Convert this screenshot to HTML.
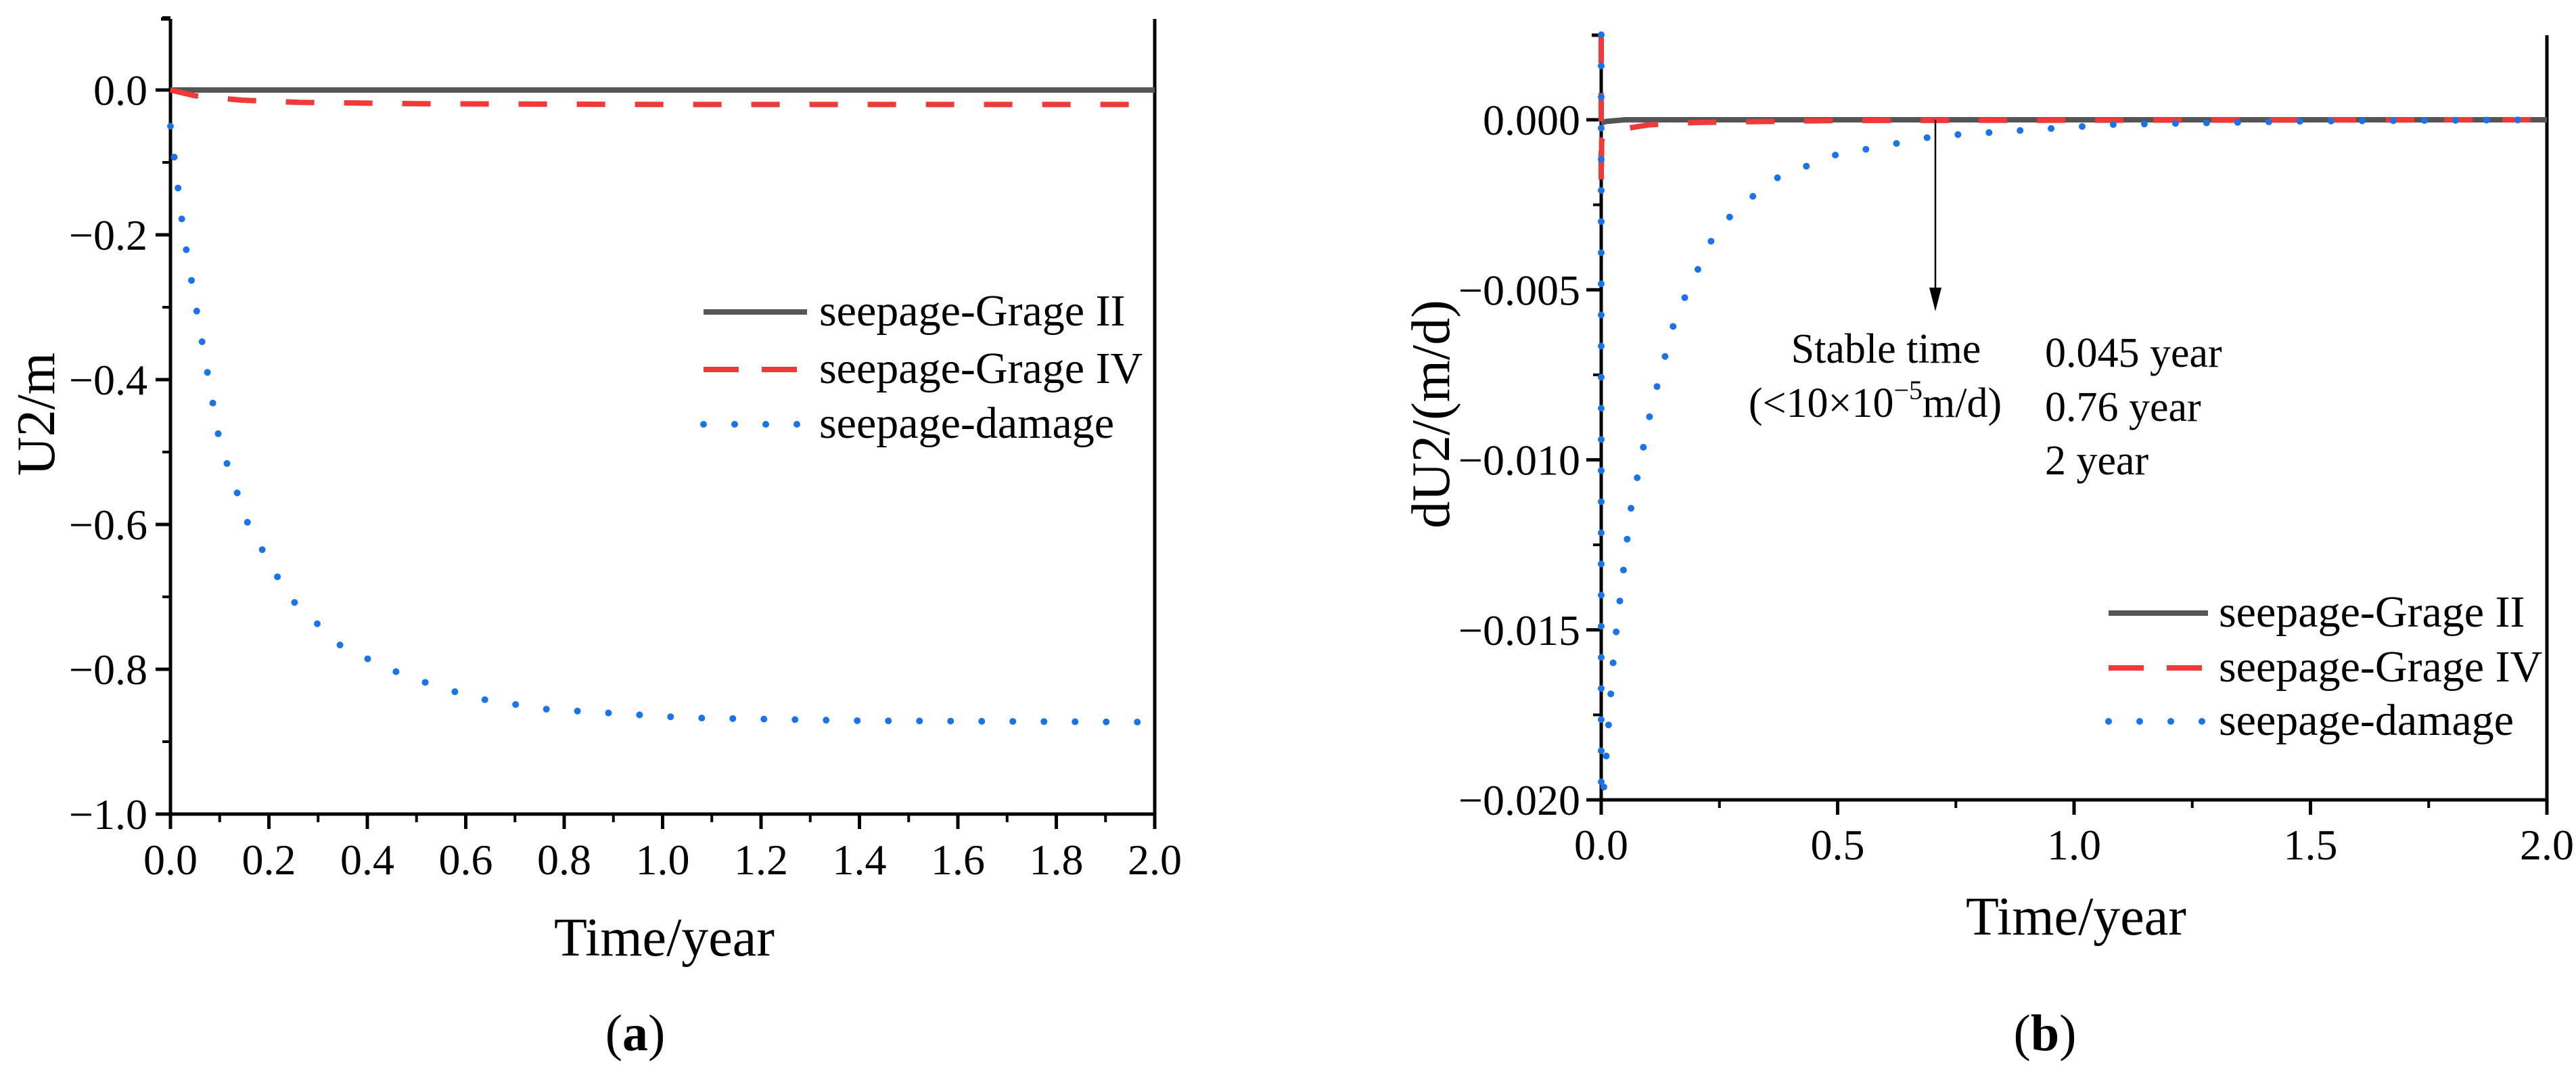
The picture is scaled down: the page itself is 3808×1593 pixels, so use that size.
<!DOCTYPE html>
<html><head><meta charset="utf-8"><style>
html,body{margin:0;padding:0;background:#fff;}
svg{display:block;font-family:"Liberation Serif",serif;}
svg text{font-family:"Liberation Serif",serif;}
</style></head><body>
<svg id="fig" width="3808" height="1593" viewBox="0 0 3808 1593" xmlns="http://www.w3.org/2000/svg">
<g id="pa"></g>
<g id="pb"></g>
</svg>
<script>
// Panel (a) data
const aGrayT=[0,2.0];
const aGrayV=[0,0];
const aRedT=[0,0.05,0.145,0.26,0.5,1.0,2.0];
const aRedV=[0,-0.008,-0.014,-0.017,-0.019,-0.02,-0.02];
const aBlueT=[0,0.027,0.052,0.1,0.158,0.24,0.35,0.48,0.62,0.76,1.05,1.4,2.0];
const aBlueV=[-0.05,-0.2,-0.3,-0.487,-0.6,-0.7,-0.77,-0.81,-0.84,-0.855,-0.867,-0.871,-0.873];
const aXTicks=["0.0","0.2","0.4","0.6","0.8","1.0","1.2","1.4","1.6","1.8","2.0"];
const aYTicks=["0.0","\u22120.2","\u22120.4","\u22120.6","\u22120.8","\u22121.0"];
const aYTickVals=[0,-0.2,-0.4,-0.6,-0.8,-1.0];
// Panel (b) data
const bGrayT=[0,0.01,0.05,2.0];
const bGrayV=[-0.0001,-0.00005,0,0];
const bRedT=[0,0,0.001,0.01,0.03,0.055,0.1,0.2,0.5,2.0];
const bRedV=[0.0025,-0.002,-0.0006,-0.00045,-0.0003,-0.00025,-0.00015,-0.00008,-0.00002,0];
const bBlueT=[0,0,0.006,0.027,0.062,0.106,0.157,0.245,0.358,0.49,0.707,1.08,1.5,2.0];
const bBlueV=[0.0025,-0.02,-0.0196,-0.0156,-0.0115,-0.00847,-0.00582,-0.00319,-0.00179,-0.00105,-0.00048,-0.00014,-0.00004,0];
const bXTicks=["0.0","0.5","1.0","1.5","2.0"];
const bYTicks=["0.000","\u22120.005","\u22120.010","\u22120.015","\u22120.020"];
const bYTickVals=[0,-0.005,-0.01,-0.015,-0.02];
const legendNames=["seepage-Grage II","seepage-Grage IV","seepage-damage"];

const NS="http://www.w3.org/2000/svg";
function mk(parent,tag,attrs,text){
  const e=document.createElementNS(NS,tag);
  for(const k in attrs) e.setAttribute(k,attrs[k]);
  if(tag==="text") e.setAttribute("font-family","Liberation Serif, serif");
  if(text!==undefined) e.textContent=text;
  parent.appendChild(e);return e;
}
const styles=[
  {stroke:"#555555","stroke-width":8,fill:"none"},
  {stroke:"#f03a3a","stroke-width":8,fill:"none","stroke-dasharray":"42 44"},
  {stroke:"#1a73e8","stroke-width":10,fill:"none","stroke-dasharray":"0 46","stroke-linecap":"round"}
];
function panel(g,o){
  const sx=t=>o.x0+(t-o.tmin)/(o.tmax-o.tmin)*(o.x1-o.x0);
  const sy=v=>o.y0+(o.v0-v)/(o.v0-o.v1)*(o.y1-o.y0);
  let e=mk(g,"line",{x1:o.x0,y1:o.ytop,x2:o.x0,y2:o.y1,stroke:"#000","stroke-width":5});
  
  e=mk(g,"line",{x1:o.x0-2,y1:o.y1,x2:o.x1+2,y2:o.y1,stroke:"#000","stroke-width":5});
  
  e=mk(g,"line",{x1:o.x1,y1:o.ytop,x2:o.x1,y2:o.y1,stroke:"#000","stroke-width":5});
  
  e=mk(g,"line",{x1:o.x0-14,y1:o.ytop,x2:o.x0,y2:o.ytop,stroke:"#000","stroke-width":5});
  
  o.xt.forEach((lab,i)=>{
    const t=o.tmin+i*o.xstep;const x=sx(t);
    let l=mk(g,"line",{x1:x,y1:o.y1,x2:x,y2:o.y1+22,stroke:"#000","stroke-width":5});
    
    let tx=mk(g,"text",{x:x,y:o.xly,"font-size":64,"text-anchor":"middle"},lab);
    
    if(i<o.xt.length-1){const xm=sx(t+o.xstep/2);
      let m=mk(g,"line",{x1:xm,y1:o.y1,x2:xm,y2:o.y1+12,stroke:"#000","stroke-width":4});
      }
  });
  o.yt.forEach((lab,i)=>{
    const v=o.ytv[i];const y=sy(v);
    let l=mk(g,"line",{x1:o.x0-22,y1:y,x2:o.x0,y2:y,stroke:"#000","stroke-width":5});
    
    let tx=mk(g,"text",{x:o.ylx,y:y+22,"font-size":64,"text-anchor":"end"},lab);
    
  });
  o.ymin.forEach(v=>{const y=sy(v);
    let m=mk(g,"line",{x1:o.x0-12,y1:y,x2:o.x0,y2:y,stroke:"#000","stroke-width":4});
    });
  o.series.forEach((s,k)=>{
    const d=s.t.map((t,i)=>(i?"L":"M")+sx(t).toFixed(1)+","+sy(s.v[i]).toFixed(1)).join(" ");
    const p=mk(g,"path",Object.assign({d:d},styles[k]));
    
    
  });
  let t=mk(g,"text",{x:o.xtx,y:o.xty,"font-size":80,"text-anchor":"middle"},"Time/year");
  
  t=mk(g,"text",{x:0,y:0,"font-size":80,"text-anchor":"middle",transform:`translate(${o.ytx},${o.yty}) rotate(-90)`},o.ytitle);
  
  legendNames.forEach((n,k)=>{
    const y=o.legY[k];
    const st=Object.assign({},styles[k]);
    if(k==1) st["stroke-dasharray"]="52 34";
    if(k==2) st["stroke-dasharray"]="0 46";
    const l=mk(g,"line",Object.assign({x1:o.legX0,y1:y,x2:o.legX1,y2:y},st));
    
    const tx=mk(g,"text",{x:o.legTx,y:y+20,"font-size":66},n);
    
  });
  t=mk(g,"text",{x:o.capx,y:o.capy,"font-size":76,"text-anchor":"middle"},"");
  mk(t,"tspan",{},"(");mk(t,"tspan",{"font-weight":"bold"},o.cap);mk(t,"tspan",{},")");
  
  return {sx,sy};
}
panel(document.getElementById('pa'),{x0:252,x1:1707,tmin:0,tmax:2,y0:133,y1:1203,v0:0,v1:-1,ytop:28,
  xt:aXTicks,xstep:0.2,yt:aYTicks,ytv:aYTickVals,ymin:[0.1,-0.1,-0.3,-0.5,-0.7,-0.9],xly:1292,ylx:218,
  series:[{t:aGrayT,v:aGrayV},{t:aRedT,v:aRedV},{t:aBlueT,v:aBlueV}],
  xtx:982,xty:1412,ytx:80,yty:612,ytitle:"U2/m",
  legY:[461,546,627],legX0:1040,legX1:1193,legTx:1211,capx:939,capy:1552,cap:"a"});
panel(document.getElementById('pb'),{x0:2367,x1:3765,tmin:0,tmax:2,y0:177,y1:1182,v0:0,v1:-0.02,ytop:52,
  xt:bXTicks,xstep:0.5,yt:bYTicks,ytv:bYTickVals,ymin:[-0.0025,-0.0075,-0.0125,-0.0175],xly:1270,ylx:2336,
  series:[{t:bGrayT,v:bGrayV},{t:bRedT,v:bRedV},{t:bBlueT,v:bBlueV}],
  xtx:3069,xty:1381,ytx:2142,yty:612,ytitle:"dU2/(m/d)",
  legY:[906,987,1066],legX0:3117,legX1:3264,legTx:3280,capx:3023,capy:1552,cap:"b"});
const gb=document.getElementById('pb');
let ar=mk(gb,"line",{x1:2861,y1:177,x2:2861,y2:440,stroke:"#000","stroke-width":2.5});

ar=mk(gb,"path",{d:"M2852,425 L2870,425 L2861,460 Z",fill:"#000"});

let tx=mk(gb,"text",{x:2788,y:536,"font-size":62,"text-anchor":"middle"},"Stable time");

tx=mk(gb,"text",{x:2772,y:616,"font-size":62,"text-anchor":"middle"},"");
mk(tx,"tspan",{},"(<10\u00d710");mk(tx,"tspan",{"font-size":40,dy:-26},"\u22125");mk(tx,"tspan",{dy:26},"m/d)");

["0.045 year","0.76 year","2 year"].forEach((s,i)=>{
  const t=mk(gb,"text",{x:3023,y:[542,622,701][i],"font-size":62},s);
  
});
</script>
</body></html>
